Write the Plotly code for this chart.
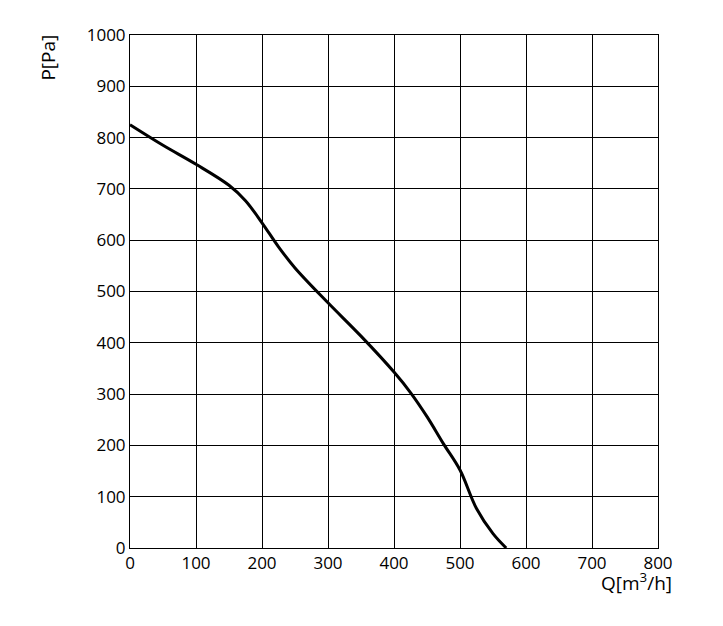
import plotly.graph_objects as go

q = [0, 50, 100, 150, 175, 200, 225, 250, 300, 350, 400, 425, 450, 475, 500, 525, 550, 570]
p = [825, 785, 748, 707, 677, 634, 587, 546, 478, 413, 343, 303, 256, 203, 152, 77, 28, 0]
xticks = [0, 100, 200, 300, 400, 500, 600, 700, 800]
yticks = [0, 100, 200, 300, 400, 500, 600, 700, 800, 900, 1000]

fig = go.Figure(go.Scatter(x=q, y=p, mode="lines", line=dict(color="black", width=3, shape="spline"),
                           showlegend=False))
ax = dict(showgrid=True, gridcolor="black", gridwidth=1, zeroline=False, showline=True,
          linecolor="black", mirror=True, ticks="", tickfont=dict(size=17, color="black"))
fig.update_xaxes(range=[0, 800], tickvals=xticks, **ax)
fig.update_yaxes(range=[0, 1000], tickvals=yticks, **ax)
fig.update_layout(width=723, height=626, margin=dict(l=122, r=73, t=27, b=86),
                  plot_bgcolor="white", paper_bgcolor="white",
                  font=dict(family="Open Sans", color="black"),
                  annotations=[
                      dict(text="P[Pa]", xref="paper", yref="paper", x=-0.155, y=1.005, textangle=-90,
                           showarrow=False, font=dict(size=19), xanchor="center", yanchor="top"),
                      dict(text="Q[m<sup>3</sup>/h]", xref="paper", yref="paper", x=1.03, y=-0.035,
                           showarrow=False, font=dict(size=19), xanchor="right", yanchor="top"),
                  ])
fig.write_html("out.html")
